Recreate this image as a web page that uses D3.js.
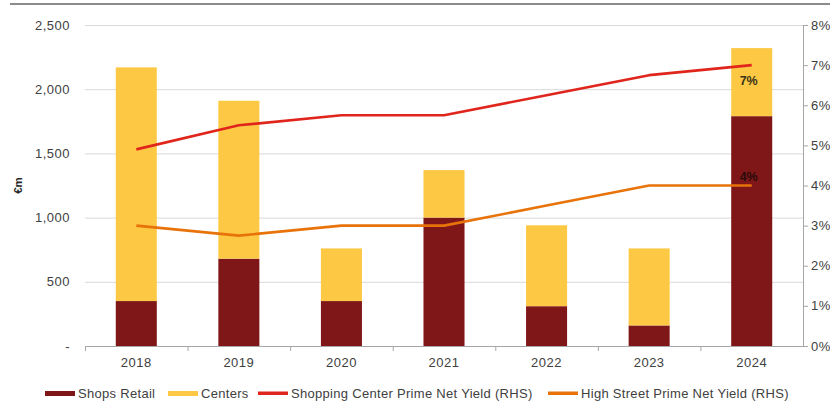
<!DOCTYPE html>
<html>
<head>
<meta charset="utf-8">
<script src="https://cdn.jsdelivr.net/npm/d3@7/dist/d3.min.js"></script>
<style>
  html, body { margin: 0; padding: 0; background: #fff; }
  svg { display: block; font-family: "Liberation Sans", Arial, sans-serif; }
</style>
</head>
<body>
<svg id="chart" width="830" height="419"></svg>
<script>
// Retail investment volumes (€m) and prime net yields
const years = ["2018", "2019", "2020", "2021", "2022", "2023", "2024"];
const shopsRetail = [350, 680, 350, 1000, 310, 160, 1790];
const centers = [1820, 1230, 410, 370, 630, 600, 530];
const shoppingCenterYield = [4.9, 5.5, 5.75, 5.75, 6.25, 6.75, 7.0];
const highStreetYield = [3.0, 2.75, 3.0, 3.0, 3.5, 4.0, 4.0];
const leftTicks = [0, 500, 1000, 1500, 2000, 2500];
const rightTicks = [0, 1, 2, 3, 4, 5, 6, 7, 8];
const seriesNames = ["Shops Retail", "Centers", "Shopping Center Prime Net Yield (RHS)", "High Street Prime Net Yield (RHS)"];
const colors = ["#7f1718", "#fdc843", "#e0261c", "#e8730a"];

const svg = d3.select("#chart");
const m = { left: 85, right: 803, top: 25, bottom: 346 };

const x = d3.scaleBand().domain(years).range([m.left, m.right]).paddingInner(0.6).paddingOuter(0.3);
const band = d3.scaleBand().domain(years).range([m.left, m.right]);
const yL = d3.scaleLinear().domain([0, 2500]).range([m.bottom, m.top]);
const yR = d3.scaleLinear().domain([0, 8]).range([m.bottom, m.top]);

const tickFont = { size: 13, spacing: 0.5, fill: "#404040" };

// top rule
svg.append("line").attr("x1", 10).attr("x2", 830).attr("y1", 4).attr("y2", 4)
  .attr("stroke", "#8c8c8c").attr("stroke-width", 2);

// gridlines
svg.append("g").selectAll("line").data(leftTicks.slice(1)).join("line")
  .attr("x1", m.left).attr("x2", m.right)
  .attr("y1", d => yL(d) + 0.5).attr("y2", d => yL(d) + 0.5)
  .attr("stroke", "#d9d9d9").attr("stroke-width", 1);

// left tick labels
svg.append("g").selectAll("text").data(leftTicks).join("text")
  .attr("x", 70).attr("y", d => yL(d) + 4.5)
  .attr("text-anchor", "end").attr("font-size", tickFont.size)
  .attr("letter-spacing", tickFont.spacing).attr("fill", tickFont.fill)
  .text(d => d === 0 ? "-" : d3.format(",")(d));

// left unit label
svg.append("text").attr("transform", `translate(22,${(m.top + m.bottom) / 2}) rotate(-90)`)
  .attr("text-anchor", "middle").attr("font-size", 11.5).attr("font-weight", "bold")
  .attr("fill", "#262626").text("€m");

// stacked bars
const stack = d3.stack().keys([0, 1]).value((d, k) => d[k]);
const rows = years.map((y, i) => [shopsRetail[i], centers[i]]);
const layers = stack(rows);
layers.forEach((layer, li) => {
  svg.append("g").selectAll("rect").data(layer).join("rect")
    .attr("x", (d, i) => x(years[i])).attr("width", x.bandwidth())
    .attr("y", d => yL(d[1])).attr("height", d => yL(d[0]) - yL(d[1]))
    .attr("fill", colors[li]);
});

// bottom axis line with category ticks
svg.append("line").attr("x1", m.left).attr("x2", m.right)
  .attr("y1", m.bottom + 0.5).attr("y2", m.bottom + 0.5).attr("stroke", "#a6a6a6");
svg.append("g").selectAll("line").data(years).join("line")
  .attr("x1", d => band(d) + 0.5).attr("x2", d => band(d) + 0.5)
  .attr("y1", m.bottom).attr("y2", m.bottom + 5).attr("stroke", "#a6a6a6");
svg.append("g").selectAll("text").data(years).join("text")
  .attr("x", d => band(d) + band.bandwidth() / 2).attr("y", m.bottom + 21)
  .attr("text-anchor", "middle").attr("font-size", tickFont.size)
  .attr("letter-spacing", tickFont.spacing).attr("fill", tickFont.fill)
  .text(d => d);

// right axis
svg.append("line").attr("x1", m.right + 0.5).attr("x2", m.right + 0.5)
  .attr("y1", m.top).attr("y2", m.bottom).attr("stroke", "#a6a6a6");
svg.append("g").selectAll("line").data(rightTicks).join("line")
  .attr("x1", m.right).attr("x2", m.right + 5)
  .attr("y1", d => yR(d) + 0.5).attr("y2", d => yR(d) + 0.5).attr("stroke", "#a6a6a6");
svg.append("g").selectAll("text").data(rightTicks).join("text")
  .attr("x", 811).attr("y", d => yR(d) + 4.5)
  .attr("font-size", tickFont.size).attr("letter-spacing", tickFont.spacing)
  .attr("fill", tickFont.fill).text(d => d + "%");

// yield lines
const cx = y => band(y) + band.bandwidth() / 2;
const line = d3.line().x((d, i) => cx(years[i])).y(d => yR(d));
[shoppingCenterYield, highStreetYield].forEach((s, k) => {
  svg.append("path").datum(s).attr("d", line).attr("fill", "none")
    .attr("stroke", colors[2 + k]).attr("stroke-width", 2.6).attr("stroke-linejoin", "round");
});

// value labels on the last point
const last = years.length - 1;
svg.append("text").attr("x", cx(years[last]) - 3).attr("y", yR(shoppingCenterYield[last]) + 20)
  .attr("text-anchor", "middle").attr("font-size", 12.5).attr("font-weight", "bold").attr("fill", "#3a3418")
  .text(d3.format(".0%")(shoppingCenterYield[last] / 100));
svg.append("text").attr("x", cx(years[last]) - 3).attr("y", yR(highStreetYield[last]) - 5)
  .attr("text-anchor", "middle").attr("font-size", 12.5).attr("font-weight", "bold").attr("fill", "#2a0a0a")
  .text(d3.format(".0%")(highStreetYield[last] / 100));

// legend
const legendX = [45, 168, 258, 548];
const lg = svg.append("g");
seriesNames.forEach((name, i) => {
  const isBar = i < 2;
  lg.append("rect").attr("x", legendX[i]).attr("y", isBar ? 391 : 391.5)
    .attr("width", 30).attr("height", isBar ? 5 : 3.5).attr("fill", colors[i]);
  lg.append("text").attr("x", legendX[i] + 33).attr("y", 398)
    .attr("font-size", 13).attr("letter-spacing", 0.3).attr("fill", "#404040").text(name);
});
</script>
</body>
</html>
